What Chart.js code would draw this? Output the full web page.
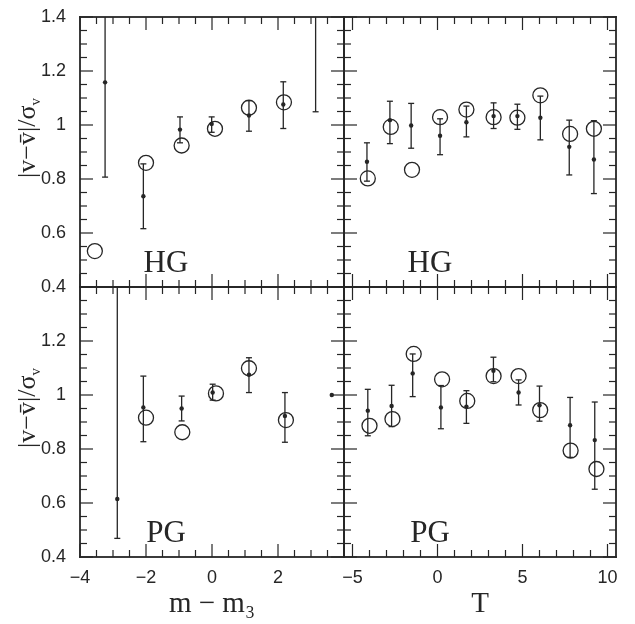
<!DOCTYPE html>
<html>
<head>
<meta charset="utf-8">
<script src="https://cdn.jsdelivr.net/npm/chart.js@4.4.1/dist/chart.umd.min.js"></script>
<style>
  html, body { margin: 0; padding: 0; background: #ffffff; }
  #wrap { position: relative; width: 635px; height: 624px; background: #ffffff; }
  #wrap canvas { position: absolute; left: 0; top: 0; }
</style>
</head>
<body>
<div id="wrap">
  <canvas id="cTL" width="635" height="624"></canvas>
  <canvas id="cTR" width="635" height="624"></canvas>
  <canvas id="cBL" width="635" height="624"></canvas>
  <canvas id="cBR" width="635" height="624"></canvas>
</div>
<script>
// ---------------- DATA ----------------
// tick labels
const magTicks = [-4, -2, 0, 2];          // m - m3 axis
const typeTicks = [-5, 0, 5, 10];         // T axis
const yTicksTop = [0.4, 0.6, 0.8, 1, 1.2, 1.4];
const yTicksBottom = [0.4, 0.6, 0.8, 1, 1.2];

// Top-left: HG versus m - m3
const tlOpenX = [-3.55, -2.0, -0.92, 0.09, 1.12, 2.18];
const tlOpenY = [0.533, 0.86, 0.924, 0.986, 1.064, 1.084];
const tlDotX  = [-3.24, -2.08, -0.97, -0.01, 1.12, 2.16, 3.14];
const tlDotY  = [1.158, 0.736, 0.983, 1.004, 1.035, 1.076, 1.55];
const tlDotLo = [0.807, 0.616, 0.934, 0.973, 0.977, 0.987, 1.049];
const tlDotHi = [1.51, 0.856, 1.03, 1.03, 1.09, 1.16, 2.05];

// Top-right: HG versus T
const trOpenX = [-4.1, -2.75, -1.5, 0.15, 1.7, 3.3, 4.7, 6.05, 7.8, 9.2];
const trOpenY = [0.802, 0.993, 0.834, 1.029, 1.057, 1.029, 1.027, 1.11, 0.967, 0.986];
const trDotX  = [-4.15, -2.8, -1.55, 0.15, 1.7, 3.3, 4.7, 6.05, 7.75, 9.2];
const trDotY  = [0.864, 1.018, 0.998, 0.96, 1.01, 1.033, 1.033, 1.027, 0.919, 0.872];
const trDotLo = [0.792, 0.931, 0.914, 0.89, 0.956, 0.987, 0.984, 0.945, 0.815, 0.746];
const trDotHi = [0.934, 1.088, 1.08, 1.023, 1.07, 1.082, 1.077, 1.107, 1.018, 1.016];

// Bottom-left: PG versus m - m3
const blOpenX = [-2.0, -0.9, 0.12, 1.12, 2.24];
const blOpenY = [0.916, 0.862, 1.006, 1.099, 0.907];
const blDotX  = [-2.87, -2.08, -0.92, 0.02, 1.12, 2.21, 3.63];
const blDotY  = [0.615, 0.954, 0.95, 1.009, 1.075, 0.922, 1.0];
const blDotLo = [0.469, 0.827, 0.904, 0.981, 1.009, 0.825, 1.0];
const blDotHi = [1.5, 1.07, 0.996, 1.04, 1.138, 1.009, 1.0];

// Bottom-right: PG versus T
const brOpenX = [-4.0, -2.65, -1.4, 0.27, 1.75, 3.3, 4.77, 6.04, 7.83, 9.35];
const brOpenY = [0.886, 0.911, 1.152, 1.058, 0.978, 1.07, 1.07, 0.944, 0.794, 0.726];
const brDotX  = [-4.1, -2.7, -1.46, 0.2, 1.7, 3.29, 4.77, 6.0, 7.8, 9.25];
const brDotY  = [0.942, 0.959, 1.08, 0.954, 0.957, 1.09, 1.009, 0.962, 0.888, 0.833];
const brDotLo = [0.849, 0.883, 0.994, 0.875, 0.895, 1.049, 0.963, 0.903, 0.769, 0.651];
const brDotHi = [1.021, 1.036, 1.152, 1.035, 1.016, 1.14, 1.056, 1.033, 0.991, 0.974];

// ---------------- STYLE / LAYOUT ----------------
const INK = '#262626';
const W = 635, H = 624;
const LEFT = 80, MID_X = 344, RIGHT = 616;
const TOP = 17, MID_Y = 287, BOTTOM = 557;
const YAXIS_W = 80, XAXIS_H = 65;
const SERIF = '"Liberation Serif", "DejaVu Serif", serif';

function fmtNum(v) {
  const s = String(Number(v.toFixed(2)));
  return v < 0 ? '\u2212' + s.slice(1) : s;
}
function pairs(xs, ys) { return xs.map((x, i) => ({ x: x, y: ys[i] })); }
function steps(min, max, step) {
  const out = [];
  for (let k = Math.ceil(min / step - 1e-9); k * step <= max + 1e-9; k++) out.push(+(k * step).toFixed(6));
  return out;
}
function isMult(v, base, step) {
  const r = (v - base) / step;
  return Math.abs(r - Math.round(r)) < 1e-6;
}
function resetCtx(ctx) {
  ctx.setTransform(1, 0, 0, 1, 0, 0);
  ctx.globalAlpha = 1;
  ctx.globalCompositeOperation = 'source-over';
  ctx.setLineDash([]);
  ctx.lineCap = 'butt';
  ctx.lineJoin = 'miter';
  ctx.shadowColor = 'rgba(0,0,0,0)';
  ctx.shadowBlur = 0;
  ctx.filter = 'none';
}

function makePanel(id, p) {
  const deco = {
    id: 'deco_' + id,
    afterDatasetsDraw(chart) {
      const ctx = chart.ctx, a = chart.chartArea, xs = chart.scales.x, ys = chart.scales.y;
      ctx.save();
      resetCtx(ctx);
      ctx.beginPath();
      ctx.rect(a.left, a.top, a.right - a.left, a.bottom - a.top);
      ctx.clip();
      ctx.fillStyle = INK;
      for (let i = 0; i < p.dotX.length; i++) {
        const px = xs.getPixelForValue(p.dotX[i]);
        const yl = ys.getPixelForValue(p.dotLo[i]);
        const yh = ys.getPixelForValue(p.dotHi[i]);
        if (Math.abs(yl - yh) < 0.5) continue;
        ctx.fillRect(px - 0.65, Math.min(yl, yh), 1.3, Math.abs(yl - yh));
        ctx.fillRect(px - 3, yl - 0.65, 6, 1.3);
        ctx.fillRect(px - 3, yh - 0.65, 6, 1.3);
      }
      ctx.restore();
    },
    afterDraw(chart) {
      const ctx = chart.ctx, a = chart.chartArea, xs = chart.scales.x, ys = chart.scales.y;
      ctx.save();
      resetCtx(ctx);
      ctx.fillStyle = INK;
      // inward tick marks on all four sides
      steps(p.xMin, p.xMax, p.xMinor).forEach(v => {
        const px = xs.getPixelForValue(v);
        const len = isMult(v, 0, p.xMajor) ? 13 : 7;
        ctx.fillRect(px - 0.6, a.bottom - len, 1.2, len);
        ctx.fillRect(px - 0.6, a.top, 1.2, len);
      });
      steps(0.4, 1.4, 0.05).forEach(v => {
        const py = ys.getPixelForValue(v);
        const len = isMult(v, 0.4, 0.2) ? 13 : 7;
        ctx.fillRect(a.left, py - 0.6, len, 1.2);
        ctx.fillRect(a.right - len, py - 0.6, len, 1.2);
      });
      // frame
      const lw = 1.8;
      ctx.fillRect(a.left - lw / 2, a.top - lw / 2, a.right - a.left + lw, lw);
      ctx.fillRect(a.left - lw / 2, a.bottom - lw / 2, a.right - a.left + lw, lw);
      ctx.fillRect(a.left - lw / 2, a.top - lw / 2, lw, a.bottom - a.top + lw);
      ctx.fillRect(a.right - lw / 2, a.top - lw / 2, lw, a.bottom - a.top + lw);
      // panel label
      ctx.font = '31px ' + SERIF;
      ctx.textAlign = 'center';
      ctx.textBaseline = 'alphabetic';
      ctx.fillText(p.label, a.left + 86, a.bottom - 15);
      // y-axis title (rotated), only on left panels
      if (p.showY) {
        const cy = (a.top + a.bottom) / 2 - 14;
        ctx.translate(35, cy);
        ctx.rotate(-Math.PI / 2);
        const main = '|v\u2212v\u0304|/\u03c3';
        ctx.font = '15px ' + SERIF;
        const subW = ctx.measureText('v').width;
        ctx.font = '26px ' + SERIF;
        const mainW = ctx.measureText(main).width;
        const total = mainW + subW;
        ctx.textAlign = 'left';
        ctx.fillText(main, -total / 2, 0);
        ctx.font = '15px ' + SERIF;
        ctx.fillText('v', -total / 2 + mainW, 5);
      }
      ctx.restore();
    }
  };

  const tickFont = { family: '"Liberation Sans", Arial, sans-serif', size: 18 };
  const titleFontX = { family: SERIF, size: 29 };

  return new Chart(document.getElementById(id), {
    type: 'scatter',
    data: {
      datasets: [
        {
          label: p.label + ' open circles',
          data: pairs(p.openX, p.openY),
          pointStyle: 'circle',
          pointRadius: 7.5,
          pointBorderWidth: 1.3,
          pointBorderColor: INK,
          pointBackgroundColor: 'rgba(0,0,0,0)',
          showLine: false
        },
        {
          label: p.label + ' filled points',
          data: pairs(p.dotX, p.dotY),
          pointStyle: 'circle',
          pointRadius: 2.2,
          pointBorderWidth: 0,
          pointBackgroundColor: INK,
          showLine: false
        }
      ]
    },
    options: {
      responsive: false,
      animation: false,
      events: [],
      layout: { padding: p.padding },
      plugins: { legend: { display: false }, tooltip: { enabled: false } },
      scales: {
        x: {
          type: 'linear',
          position: 'bottom',
          min: p.xMin, max: p.xMax,
          display: p.showX,
          grid: { display: false, drawTicks: false },
          border: { display: false },
          afterBuildTicks: s => { s.ticks = p.xTicks.map(v => ({ value: v })); },
          afterFit: s => { if (p.showX) s.height = XAXIS_H; s.paddingLeft = 0; s.paddingRight = 0; },
          ticks: {
            autoSkip: false, maxRotation: 0, minRotation: 0, padding: 10,
            color: INK, font: tickFont,
            callback: v => fmtNum(v)
          },
          title: {
            display: p.showX, text: p.xTitle, color: INK, font: titleFontX,
            padding: { top: 0, bottom: 0 }
          }
        },
        y: {
          type: 'linear',
          position: 'left',
          min: 0.4, max: 1.4,
          display: p.showY,
          grid: { display: false, drawTicks: false },
          border: { display: false },
          afterBuildTicks: s => { s.ticks = p.yTicks.map(v => ({ value: v })); },
          afterFit: s => { if (p.showY) s.width = YAXIS_W; s.paddingTop = 0; s.paddingBottom = 0; },
          ticks: {
            autoSkip: false, padding: 14,
            color: INK, font: tickFont,
            callback: v => fmtNum(v)
          }
        }
      }
    },
    plugins: [deco]
  });
}

makePanel('cTL', {
  label: 'HG', xMin: -4, xMax: 4, xMajor: 2, xMinor: 0.5, xTicks: magTicks, yTicks: yTicksTop,
  showX: false, showY: true, xTitle: 'm \u2212 m\u2083',
  padding: { left: LEFT - YAXIS_W, top: TOP, right: W - MID_X, bottom: H - MID_Y },
  openX: tlOpenX, openY: tlOpenY, dotX: tlDotX, dotY: tlDotY, dotLo: tlDotLo, dotHi: tlDotHi
});
makePanel('cTR', {
  label: 'HG', xMin: -5.5, xMax: 10.5, xMajor: 5, xMinor: 1, xTicks: typeTicks, yTicks: yTicksTop,
  showX: false, showY: false, xTitle: 'T',
  padding: { left: MID_X, top: TOP, right: W - RIGHT, bottom: H - MID_Y },
  openX: trOpenX, openY: trOpenY, dotX: trDotX, dotY: trDotY, dotLo: trDotLo, dotHi: trDotHi
});
makePanel('cBL', {
  label: 'PG', xMin: -4, xMax: 4, xMajor: 2, xMinor: 0.5, xTicks: magTicks, yTicks: yTicksBottom,
  showX: true, showY: true, xTitle: 'm \u2212 m\u2083',
  padding: { left: LEFT - YAXIS_W, top: MID_Y, right: W - MID_X, bottom: H - BOTTOM - XAXIS_H },
  openX: blOpenX, openY: blOpenY, dotX: blDotX, dotY: blDotY, dotLo: blDotLo, dotHi: blDotHi
});
makePanel('cBR', {
  label: 'PG', xMin: -5.5, xMax: 10.5, xMajor: 5, xMinor: 1, xTicks: typeTicks, yTicks: yTicksBottom,
  showX: true, showY: false, xTitle: 'T',
  padding: { left: MID_X, top: MID_Y, right: W - RIGHT, bottom: H - BOTTOM - XAXIS_H },
  openX: brOpenX, openY: brOpenY, dotX: brDotX, dotY: brDotY, dotLo: brDotLo, dotHi: brDotHi
});
</script>
</body>
</html>
